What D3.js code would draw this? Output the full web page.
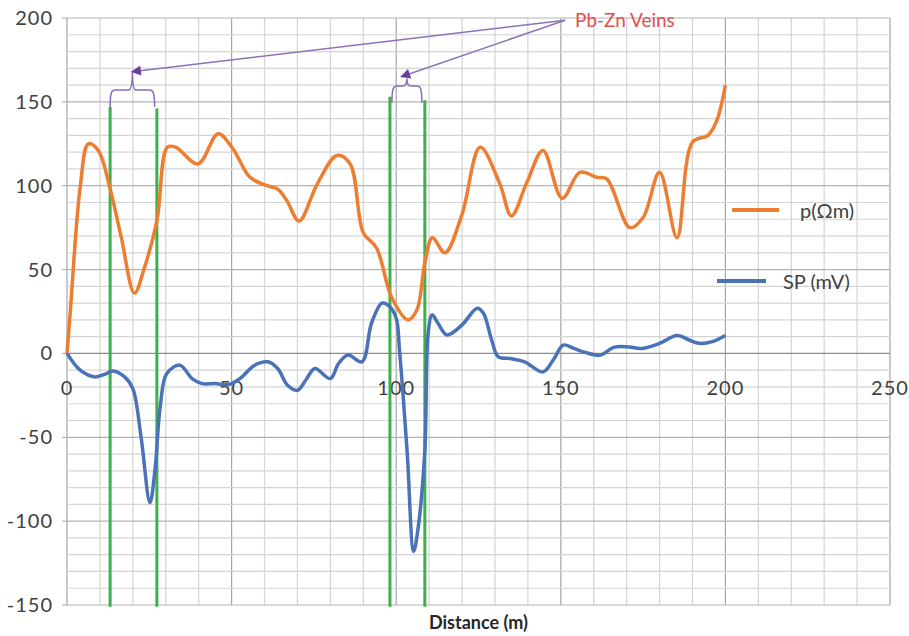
<!DOCTYPE html>
<html>
<head>
<meta charset="utf-8">
<script src="https://cdn.jsdelivr.net/npm/d3@7"></script>
<style>
  body { margin: 0; background: #fff; }
  text { font-family: Lato, "Liberation Sans", sans-serif; }
</style>
</head>
<body>
<div id="chart"></div>
<script>
const width = 909;
const height = 636;

// resistivity profile p(Ωm)
const resDist = [0, 1, 4, 6.5, 9.5, 13, 16.5, 20.5, 23.5, 27.3, 30.5, 33, 39.8, 45.9, 50.4, 55.6, 60.8, 64, 66.8, 70.5, 76, 82, 86, 90, 94, 98.7, 103.6, 106.3, 108.7, 111, 114.8, 120, 125.5, 131.5, 135, 139.7, 144.6, 150.4, 155.8, 161, 164, 171, 175, 180, 185.3, 190, 194.7, 197.4, 200];
const resVal = [0, 25, 99, 125, 121, 99, 69, 36, 51, 79, 123, 123, 113, 131, 122, 105, 100, 98, 91, 79, 101, 118, 113, 72, 63, 33, 20, 26, 54, 69, 60, 83, 123, 101, 82, 102, 121, 92.5, 108, 105, 104, 75, 81, 108, 69, 126, 130, 139, 160];

// self potential SP (mV)
const spDist = [0, 4, 8.5, 12, 14, 17.5, 20, 22.5, 25.2, 26.8, 28.3, 30.3, 34.3, 38, 41, 45, 49, 52.5, 57, 61, 64, 67, 70, 72.5, 75.3, 80, 82.5, 85.4, 89.6, 92.5, 95.7, 98, 100, 101, 103.3, 105.3, 106.6, 108.7, 109.7, 110.9, 112.7, 115.4, 120, 124.6, 126.5, 129, 131, 134.6, 139, 144.6, 148, 150.7, 154, 157.4, 162, 166, 170, 174.7, 180, 185.3, 189, 192, 196, 200];
const spVal = [0, -10, -14, -12, -10.5, -14, -21, -50, -89, -68, -32, -12, -7, -15, -18, -18, -18.5, -15, -7, -5, -9, -19, -22, -16, -9, -15, -6, -1, -5, 18, 30, 28, 21, 2, -58, -118, -105, -58, 12, 23, 18, 11, 17, 27, 24, 8, -2, -3, -5, -11, -3, 5, 3, 0.6, -1, 3.6, 4, 3, 6, 10.7, 8, 6, 7, 10.7];

// vein boundaries (distance, top of marker line)
const veinX = [13.1, 27.3, 98.1, 108.7];
const veinTop = [147, 146, 153, 151];

// braces over the veins: [left, right, level, tip]
const braces = [
  [13.1, 26.6, 157, 168],
  [98.7, 107.8, 159.5, 164]
];
const arrowTips = [[19.7, 168], [101.5, 165]];
const labelPoint = [151.3, 198.7];

const xTicks = [0, 50, 100, 150, 200, 250];
const yTicks = [-150, -100, -50, 0, 50, 100, 150, 200];

const x = d3.scaleLinear().domain([0, 250]).range([67, 890]);
const y = d3.scaleLinear().domain([-150, 200]).range([605, 18]);

const svg = d3
  .select("#chart")
  .append("svg")
  .attr("width", width)
  .attr("height", height);

// grid lines
svg
  .append("g")
  .selectAll("line")
  .data(d3.range(0, 251, 10))
  .enter()
  .append("line")
  .attr("x1", (d) => x(d))
  .attr("x2", (d) => x(d))
  .attr("y1", y(200))
  .attr("y2", y(-150))
  .attr("stroke", (d) => (d % 50 === 0 ? "#a6a6a6" : "#d4d4d4"))
  .attr("stroke-width", 1.2);

svg
  .append("g")
  .selectAll("line")
  .data(d3.range(-150, 201, 10))
  .enter()
  .append("line")
  .attr("x1", x(0))
  .attr("x2", x(250))
  .attr("y1", (d) => y(d))
  .attr("y2", (d) => y(d))
  .attr("stroke", (d) => (d === 0 ? "#8c8c8c" : d % 50 === 0 ? "#b3b3b3" : "#d4d4d4"))
  .attr("stroke-width", 1.2);

// y axis ticks + labels
const yAxis = svg.append("g");
yAxis
  .selectAll("line")
  .data(yTicks)
  .enter()
  .append("line")
  .attr("x1", x(0) - 5)
  .attr("x2", x(0))
  .attr("y1", (d) => y(d))
  .attr("y2", (d) => y(d))
  .attr("stroke", "#a6a6a6");
yAxis
  .selectAll("text")
  .data(yTicks)
  .enter()
  .append("text")
  .attr("x", 53)
  .attr("y", (d) => y(d))
  .attr("dy", "0.35em")
  .attr("text-anchor", "end")
  .attr("font-size", "20px")
  .attr("letter-spacing", "1px")
  .attr("fill", "#404040")
  .text((d) => d);

// x tick labels sit under the zero line
svg
  .append("g")
  .selectAll("text")
  .data(xTicks)
  .enter()
  .append("text")
  .attr("x", (d) => x(d))
  .attr("y", y(0) + 35)
  .attr("dy", "0.35em")
  .attr("text-anchor", "middle")
  .attr("font-size", "20px")
  .attr("letter-spacing", "1px")
  .attr("fill", "#404040")
  .text((d) => d);

svg
  .append("text")
  .attr("x", (x(0) + x(250)) / 2)
  .attr("y", 629)
  .attr("text-anchor", "middle")
  .attr("font-size", "18px")
  .attr("font-weight", "bold")
  .attr("fill", "#262626")
  .text("Distance (m)");

// green vein markers
svg
  .append("g")
  .selectAll("line")
  .data(veinX)
  .enter()
  .append("line")
  .attr("x1", (d) => x(d))
  .attr("x2", (d) => x(d))
  .attr("y1", (d, i) => y(veinTop[i]))
  .attr("y2", y(-151))
  .attr("stroke", "#3cb04a")
  .attr("stroke-width", 3);

// data lines
const line = d3
  .line()
  .x((d) => x(d[0]))
  .y((d) => y(d[1]))
  .curve(d3.curveCatmullRom.alpha(0.5));

svg
  .append("path")
  .datum(d3.zip(resDist, resVal))
  .attr("d", line)
  .attr("fill", "none")
  .attr("stroke", "#ed7d31")
  .attr("stroke-width", 3.5);

svg
  .append("path")
  .datum(d3.zip(spDist, spVal))
  .attr("d", line)
  .attr("fill", "none")
  .attr("stroke", "#4a72b8")
  .attr("stroke-width", 3.5);

// braces
svg
  .append("g")
  .selectAll("path")
  .data(braces)
  .enter()
  .append("path")
  .attr("d", (b) => {
    const xl = x(b[0]), xr = x(b[1]), xc = (xl + xr) / 2;
    const yl = y(b[2]), yt = y(b[3]);
    const yb = y(b[2] - 10);
    return `M${xl},${yb} C${xl},${yl + 4} ${xl + 1},${yl} ${xl + 5},${yl}` +
      ` L${xc - 4},${yl} Q${xc},${yl} ${xc},${yt}` +
      ` Q${xc},${yl} ${xc + 4},${yl} L${xr - 5},${yl}` +
      ` C${xr - 1},${yl} ${xr},${yl + 4} ${xr},${yb}`;
  })
  .attr("fill", "none")
  .attr("stroke", "#8b6bb8")
  .attr("stroke-width", 1.5);

// arrows from label to braces
svg
  .append("defs")
  .append("marker")
  .attr("id", "head")
  .attr("viewBox", "0 0 10 10")
  .attr("refX", 9)
  .attr("refY", 5)
  .attr("markerWidth", 12)
  .attr("markerHeight", 10)
  .attr("markerUnits", "userSpaceOnUse")
  .attr("orient", "auto")
  .append("path")
  .attr("d", "M0,0 L10,5 L0,10 Z")
  .attr("fill", "#6b3fa0");

svg
  .append("g")
  .selectAll("line")
  .data(arrowTips)
  .enter()
  .append("line")
  .attr("x1", x(labelPoint[0]))
  .attr("y1", y(labelPoint[1]))
  .attr("x2", (d) => x(d[0]))
  .attr("y2", (d) => y(d[1]))
  .attr("stroke", "#8b73b8")
  .attr("stroke-width", 1.5)
  .attr("marker-end", "url(#head)");

svg
  .append("text")
  .attr("x", x(labelPoint[0]) + 10)
  .attr("y", y(labelPoint[1]) + 7)
  .attr("font-size", "19px")
  .attr("fill", "#e0504f")
  .text("Pb-Zn Veins");

// legend
const legendItems = [
  { label: "p(Ωm)", color: "#ed7d31", x1: 732, x2: 779, y: 210, tx: 800 },
  { label: "SP (mV)", color: "#4a72b8", x1: 717, x2: 766, y: 281, tx: 783 }
];
const legend = svg.append("g");
legend
  .selectAll("line")
  .data(legendItems)
  .enter()
  .append("line")
  .attr("x1", (d) => d.x1)
  .attr("x2", (d) => d.x2)
  .attr("y1", (d) => d.y)
  .attr("y2", (d) => d.y)
  .attr("stroke", (d) => d.color)
  .attr("stroke-width", 4);
legend
  .selectAll("text")
  .data(legendItems)
  .enter()
  .append("text")
  .attr("x", (d) => d.tx)
  .attr("y", (d) => d.y + 1)
  .attr("dy", "0.35em")
  .attr("font-size", "20px")
  .attr("fill", "#404040")
  .text((d) => d.label);
</script>
</body>
</html>
